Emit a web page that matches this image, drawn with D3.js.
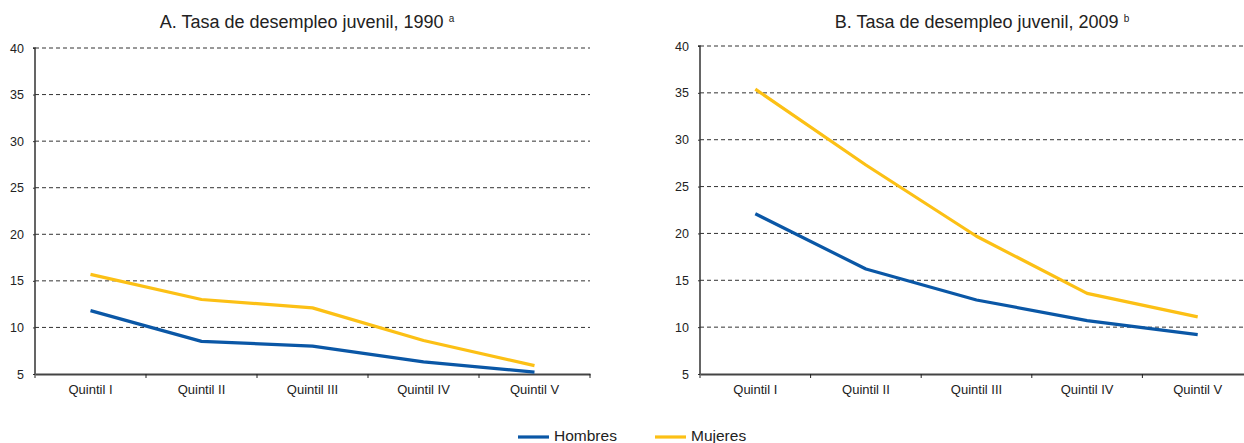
<!DOCTYPE html>
<html><head><meta charset="utf-8">
<script src="https://cdn.jsdelivr.net/npm/d3@7"></script>
<style>body{margin:0;background:#fff}svg{display:block;font-family:"Liberation Sans",Arial,sans-serif}</style>
</head><body><svg id="c" width="1244" height="443"></svg>
<script>
const categories = ["Quintil I","Quintil II","Quintil III","Quintil IV","Quintil V"];
const yTicks = [5,10,15,20,25,30,35,40];
const hombres1990 = [11.8, 8.5, 8.0, 6.3, 5.2];
const mujeres1990 = [15.7, 13.0, 12.1, 8.6, 5.9];
const hombres2009 = [22.1, 16.2, 12.9, 10.7, 9.2];
const mujeres2009 = [35.4, 27.3, 19.7, 13.6, 11.1];
const seriesNames = ["Hombres","Mujeres"];
const colors = ["#0a57a6","#fcc015"];

const svg = d3.select("#c");
const panels = [
  {title:"A. Tasa de desempleo juvenil, 1990", sup:"a", x0:35, x1:590, top:48, bottom:374, cx:307, data:[hombres1990, mujeres1990]},
  {title:"B. Tasa de desempleo juvenil, 2009", sup:"b", x0:700, x1:1253, top:46, bottom:374, cx:982, data:[hombres2009, mujeres2009]}
];

panels.forEach(p => {
  const g = svg.append("g");
  const x = d3.scaleBand().domain(categories).range([p.x0, p.x1]);
  const y = d3.scaleLinear().domain([5,40]).range([p.bottom, p.top]);
  // grid
  g.selectAll("line.grid").data(yTicks.slice(1)).join("line")
    .attr("x1", p.x0).attr("x2", Math.min(p.x1, 1244)).attr("y1", d=>y(d)).attr("y2", d=>y(d))
    .attr("stroke","#333").attr("stroke-width",1).attr("stroke-dasharray","4,3");
  // y axis
  const ya = g.append("g").attr("transform",`translate(${p.x0},0)`)
    .call(d3.axisLeft(y).tickValues(yTicks).tickSize(2).tickPadding(9));
  ya.select(".domain").attr("stroke","#333").attr("stroke-width",1.5).attr("d",`M-2,${p.top}H0V${p.bottom}`);
  ya.selectAll(".tick line").attr("stroke","#333");
  ya.selectAll("text").attr("font-size",12.5).attr("fill","#222").attr("font-family","Liberation Sans, Arial, sans-serif");
  // x axis
  const xa = g.append("g").attr("transform",`translate(0,${p.bottom})`)
    .call(d3.axisBottom(x).tickSize(0).tickPadding(11));
  xa.select(".domain").attr("stroke","#444").attr("stroke-width",2);
  xa.selectAll("text").attr("font-size",13).attr("fill","#222").attr("font-family","Liberation Sans, Arial, sans-serif");
  g.selectAll("line.xt").data(categories.concat(["__end"])).join("line")
    .attr("x1",(d,i)=> i<categories.length ? x(d) : p.x1).attr("x2",(d,i)=> i<categories.length ? x(d) : p.x1)
    .attr("y1",p.bottom).attr("y2",p.bottom+4).attr("stroke","#222");
  // lines
  const line = d3.line().x((d,i)=>x(categories[i])+x.bandwidth()/2).y(d=>y(d));
  p.data.forEach((s,k)=>{
    g.append("path").datum(s).attr("d",line).attr("fill","none")
      .attr("stroke",colors[k]).attr("stroke-width",3.2).attr("stroke-linejoin","round");
  });
  // title
  const t = g.append("text").attr("x",p.cx).attr("y",28).attr("text-anchor","middle")
    .attr("font-size",18).attr("fill","#222");
  t.append("tspan").text(p.title);
  t.append("tspan").text(" ");
  t.append("tspan").text(p.sup).attr("font-size",10).attr("dy",-6);
});

// legend
const leg = svg.append("g");
const legItems = [{x:518},{x:655}];
seriesNames.forEach((n,i)=>{
  leg.append("line").attr("x1",legItems[i].x).attr("x2",legItems[i].x+31).attr("y1",437).attr("y2",437)
    .attr("stroke",colors[i]).attr("stroke-width",3.2);
  leg.append("text").attr("x",legItems[i].x+36).attr("y",441).attr("font-size",15.5).attr("fill","#222").text(n);
});
</script></body></html>
